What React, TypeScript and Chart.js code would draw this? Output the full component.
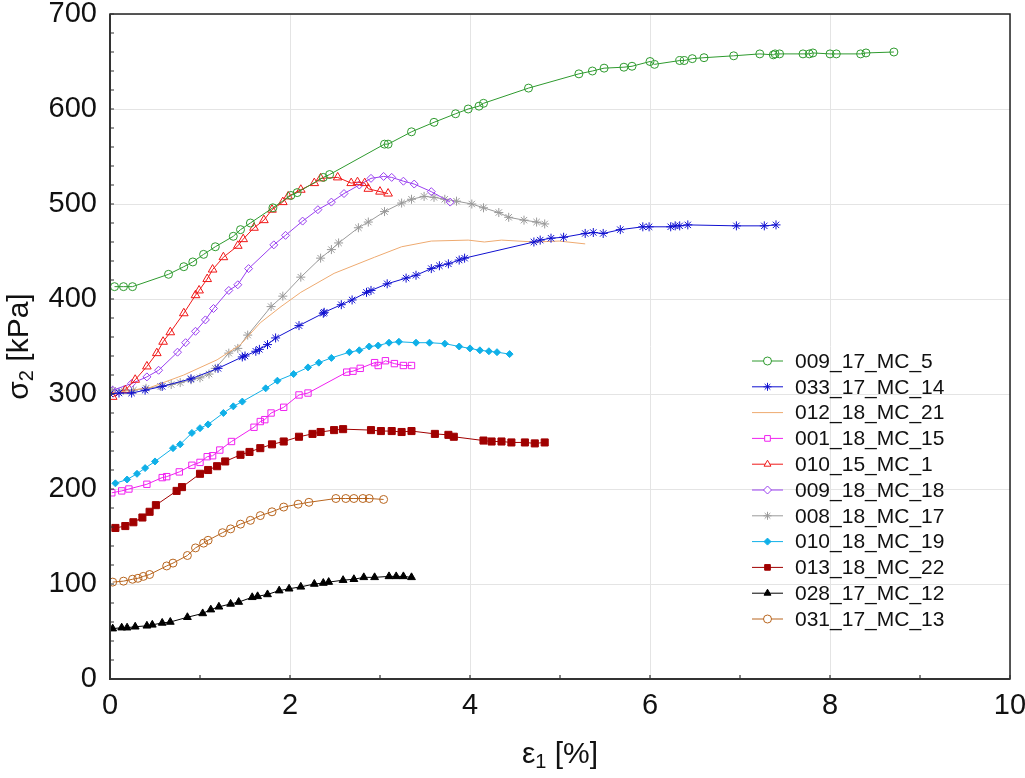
import React, { useEffect, useRef } from "react";
import { Chart, registerables } from "chart.js";
import { drawPoint } from "chart.js/helpers";

Chart.register(...registerables);

// ---------- data ----------
const xTicks = [0, 2, 4, 6, 8, 10];
const yTicks = [0, 100, 200, 300, 400, 500, 600, 700];

const s1Name = "009_17_MC_5";
const s1X = [0.05, 0.15, 0.25, 0.65, 0.82, 0.92, 1.04, 1.17, 1.37, 1.45, 1.56, 1.81, 2.01, 2.08, 2.37, 2.44, 3.05, 3.09, 3.35, 3.6, 3.84, 3.98, 4.1, 4.15, 4.65, 5.21, 5.36, 5.49, 5.71, 5.8, 6.0, 6.05, 6.33, 6.38, 6.47, 6.6, 6.93, 7.22, 7.37, 7.39, 7.44, 7.7, 7.77, 7.81, 8.0, 8.07, 8.34, 8.4, 8.71];
const s1Y = [413, 413, 413, 426, 434, 439, 447, 455, 466, 473, 480, 496, 509, 512, 528, 531, 563, 563, 576, 586, 595, 600, 603, 606, 622, 637, 640, 643, 644, 645, 650, 647, 651, 651, 653, 654, 656, 658, 657, 658, 658, 658, 658, 659, 658, 658, 658, 659, 660];

const s2Name = "033_17_MC_14";
const s2X = [0.0, 0.1, 0.24, 0.39, 0.58, 0.9, 1.2, 1.47, 1.5, 1.62, 1.66, 1.75, 1.84, 2.1, 2.37, 2.38, 2.57, 2.69, 2.85, 2.9, 3.08, 3.29, 3.4, 3.57, 3.66, 3.76, 3.88, 3.94, 4.71, 4.78, 4.9, 5.04, 5.28, 5.37, 5.48, 5.67, 5.92, 5.99, 6.23, 6.28, 6.33, 6.42, 6.96, 7.27, 7.4];
const s2Y = [300, 301, 301, 304, 308, 316, 327, 339, 340, 345, 347, 352, 359, 372, 385, 386, 394, 399, 407, 409, 416, 422, 425, 432, 435, 437, 441, 443, 460, 462, 464, 465, 469, 470, 469, 473, 476, 476, 476, 477, 477, 478, 477, 477, 478];

const s3Name = "012_18_MC_21";
const s3X = [0.0, 0.03, 0.45, 0.82, 1.19, 1.45, 1.67, 1.9, 2.12, 2.49, 2.94, 3.24, 3.57, 3.98, 4.16, 4.35, 4.72, 4.99, 5.28];
const s3Y = [300, 301, 307, 320, 336, 352, 375, 392, 407, 427, 444, 455, 461, 462, 460, 462, 460, 461, 458];

const s4Name = "001_18_MC_15";
const s4X = [0.02, 0.13, 0.21, 0.41, 0.58, 0.63, 0.77, 0.91, 1.0, 1.08, 1.14, 1.22, 1.35, 1.6, 1.67, 1.72, 1.79, 1.93, 2.1, 2.2, 2.63, 2.7, 2.78, 2.94, 2.98, 3.06, 3.16, 3.26, 3.35];
const s4Y = [196, 198, 200, 205, 212, 213, 218, 225, 228, 234, 235, 241, 250, 265, 271, 273, 280, 286, 299, 301, 323, 324, 327, 333, 330, 335, 332, 330, 330];

const s5Name = "010_15_MC_1";
const s5X = [0.03, 0.17, 0.28, 0.41, 0.52, 0.59, 0.67, 0.82, 0.95, 0.99, 1.08, 1.14, 1.26, 1.42, 1.48, 1.6, 1.71, 1.8, 1.92, 1.98, 2.12, 2.27, 2.34, 2.53, 2.68, 2.75, 2.83, 2.87, 3.0, 3.09];
const s5Y = [297, 304, 315, 329, 343, 355, 365, 385, 404, 409, 421, 431, 444, 456, 463, 475, 483, 494, 502, 508, 515, 522, 527, 528, 522, 523, 522, 516, 513, 511];

const s6Name = "009_18_MC_18";
const s6X = [0.03, 0.24, 0.41, 0.54, 0.75, 0.84, 0.95, 1.06, 1.15, 1.32, 1.42, 1.54, 1.82, 1.95, 2.14, 2.31, 2.46, 2.6, 2.77, 2.9, 3.04, 3.13, 3.26, 3.38, 3.57, 3.78];
const s6Y = [304, 311, 318, 325, 344, 354, 366, 378, 390, 409, 415, 432, 457, 467, 482, 494, 502, 511, 520, 527, 529, 528, 524, 521, 513, 502];

const s7Name = "008_18_MC_17";
const s7X = [0.03, 0.15, 0.26, 0.4, 0.56, 0.68, 0.78, 0.9, 1.0, 1.1, 1.17, 1.32, 1.42, 1.53, 1.79, 1.92, 2.12, 2.34, 2.46, 2.54, 2.76, 2.87, 3.05, 3.24, 3.35, 3.49, 3.6, 3.72, 3.85, 4.02, 4.15, 4.32, 4.43, 4.6, 4.74, 4.83];
const s7Y = [304, 304, 304, 306, 308, 310, 312, 315, 317, 321, 327, 343, 348, 362, 392, 403, 423, 443, 452, 459, 475, 481, 492, 501, 505, 508, 507, 505, 503, 500, 496, 491, 486, 483, 481, 479];

const s8Name = "010_18_MC_19";
const s8X = [0.06, 0.19, 0.3, 0.39, 0.5, 0.7, 0.78, 0.91, 1.0, 1.09, 1.26, 1.37, 1.47, 1.73, 1.86, 2.04, 2.2, 2.32, 2.46, 2.66, 2.77, 2.88, 2.98, 3.1, 3.21, 3.4, 3.55, 3.72, 3.88, 4.0, 4.11, 4.21, 4.3, 4.44];
const s8Y = [206, 210, 216, 222, 229, 243, 247, 259, 264, 268, 280, 287, 292, 306, 314, 321, 328, 333, 338, 344, 346, 350, 351, 354, 355, 354, 354, 353, 350, 348, 346, 345, 344, 342];

const s9Name = "013_18_MC_22";
const s9X = [0.06, 0.17, 0.26, 0.36, 0.44, 0.51, 0.74, 0.8, 1.0, 1.09, 1.19, 1.28, 1.45, 1.55, 1.67, 1.8, 1.93, 2.1, 2.25, 2.34, 2.49, 2.59, 2.9, 3.01, 3.13, 3.24, 3.35, 3.61, 3.76, 3.82, 4.15, 4.24, 4.35, 4.46, 4.61, 4.72, 4.83];
const s9Y = [159, 161, 165, 170, 176, 183, 198, 202, 216, 220, 224, 229, 236, 239, 243, 247, 250, 255, 258, 260, 262, 263, 262, 261, 261, 260, 261, 258, 257, 255, 251, 250, 250, 249, 249, 248, 249];

const s10Name = "028_17_MC_12";
const s10X = [0.03, 0.13, 0.19, 0.28, 0.41, 0.47, 0.58, 0.67, 0.86, 1.03, 1.12, 1.21, 1.34, 1.43, 1.58, 1.64, 1.75, 1.88, 1.99, 2.12, 2.27, 2.37, 2.43, 2.59, 2.71, 2.82, 2.94, 3.1, 3.18, 3.26, 3.35];
const s10Y = [53, 54, 54, 55, 56, 57, 59, 60, 65, 69, 73, 76, 79, 81, 86, 87, 89, 93, 95, 97, 100, 101, 102, 104, 105, 107, 107, 108, 108, 108, 107];

const s11Name = "031_17_MC_13";
const s11X = [0.03, 0.15, 0.25, 0.31, 0.37, 0.44, 0.63, 0.7, 0.86, 0.95, 1.04, 1.09, 1.25, 1.34, 1.45, 1.56, 1.67, 1.8, 1.93, 2.09, 2.21, 2.51, 2.62, 2.71, 2.81, 2.88, 3.04];
const s11Y = [102, 103, 105, 106, 108, 110, 119, 122, 130, 138, 143, 146, 154, 158, 163, 167, 172, 176, 181, 184, 186, 190, 190, 190, 190, 190, 189];

const zip = (xs: number[], ys: number[]) => xs.map((x, i) => ({ x, y: ys[i] }));

type Sty = { color: string; style: any; filled: boolean; r: number };
const seriesDefs: { name: string; xs: number[]; ys: number[]; s: Sty }[] = [
  { name: s1Name, xs: s1X, ys: s1Y, s: { color: "#2e9a2e", style: "circle", filled: false, r: 4 } },
  { name: s2Name, xs: s2X, ys: s2Y, s: { color: "#1010d0", style: "star", filled: true, r: 4.5 } },
  { name: s3Name, xs: s3X, ys: s3Y, s: { color: "#eeaa70", style: false, filled: false, r: 0 } },
  { name: s4Name, xs: s4X, ys: s4Y, s: { color: "#f020f0", style: "rect", filled: false, r: 4.5 } },
  { name: s5Name, xs: s5X, ys: s5Y, s: { color: "#f01818", style: "triangle", filled: false, r: 5 } },
  { name: s6Name, xs: s6X, ys: s6Y, s: { color: "#9a40f0", style: "rectRot", filled: false, r: 4 } },
  { name: s7Name, xs: s7X, ys: s7Y, s: { color: "#9a9a9a", style: "star", filled: true, r: 4.5 } },
  { name: s8Name, xs: s8X, ys: s8Y, s: { color: "#10b0e8", style: "rectRot", filled: true, r: 3.5 } },
  { name: s9Name, xs: s9X, ys: s9Y, s: { color: "#a00000", style: "rect", filled: true, r: 5 } },
  { name: s10Name, xs: s10X, ys: s10Y, s: { color: "#000000", style: "triangle", filled: true, r: 4.5 } },
  { name: s11Name, xs: s11X, ys: s11Y, s: { color: "#b8651e", style: "circle", filled: false, r: 4 } },
];

const FONT = "'Liberation Sans', Arial, sans-serif";

const decorPlugin = {
  id: "decor",
  afterDraw(chart: any) {
    const { ctx, chartArea } = chart;
    const { left, top, right, bottom } = chartArea;
    const xs = chart.scales.x;
    const ys = chart.scales.y;
    ctx.save();
    // frame
    ctx.strokeStyle = "#222";
    ctx.lineWidth = 1.5;
    ctx.strokeRect(left, top, right - left, bottom - top);
    ctx.lineWidth = 2;
    ctx.strokeStyle = "#333";
    ctx.beginPath();
    ctx.moveTo(left, top);
    ctx.lineTo(left, bottom);
    ctx.lineTo(right, bottom);
    ctx.stroke();
    // minor/major ticks inward
    ctx.lineWidth = 1.2;
    ctx.strokeStyle = "#333";
    ctx.beginPath();
    for (let v = 0; v <= 700; v += 20) {
      const py = ys.getPixelForValue(v);
      ctx.moveTo(left, py);
      ctx.lineTo(left + 4, py);
    }
    for (let v = 0; v <= 10; v += 1) {
      const px = xs.getPixelForValue(v);
      ctx.moveTo(px, bottom);
      ctx.lineTo(px, bottom - 4);
    }
    ctx.stroke();

    // y title
    ctx.fillStyle = "#111";
    ctx.textBaseline = "middle";
    const ycx = 20;
    const ycy = (top + bottom) / 2;
    ctx.save();
    ctx.translate(ycx, ycy);
    ctx.rotate(-Math.PI / 2);
    const big = `30px ${FONT}`;
    const small = `20px ${FONT}`;
    const parts1 = [
      { t: "σ", f: big, dy: 0 },
      { t: "2", f: small, dy: 7 },
      { t: " [kPa]", f: big, dy: 0 },
    ];
    let w = 0;
    parts1.forEach((p) => {
      ctx.font = p.f;
      w += ctx.measureText(p.t).width;
    });
    let cx = -w / 2;
    ctx.textAlign = "left";
    parts1.forEach((p) => {
      ctx.font = p.f;
      ctx.fillText(p.t, cx, p.dy);
      cx += ctx.measureText(p.t).width;
    });
    ctx.restore();

    // x title
    const parts2 = [
      { t: "ε", f: big, dy: 0 },
      { t: "1", f: small, dy: 7 },
      { t: " [%]", f: big, dy: 0 },
    ];
    w = 0;
    parts2.forEach((p) => {
      ctx.font = p.f;
      w += ctx.measureText(p.t).width;
    });
    cx = (left + right) / 2 - w / 2;
    const xty = 755;
    ctx.textAlign = "left";
    parts2.forEach((p) => {
      ctx.font = p.f;
      ctx.fillText(p.t, cx, xty + p.dy);
      cx += ctx.measureText(p.t).width;
    });

    // legend
    const lx0 = 752;
    const lx1 = 783;
    const tx = 795;
    const ly0 = 361;
    const step = 25.8;
    ctx.font = `21px ${FONT}`;
    seriesDefs.forEach((d, i) => {
      const y = ly0 + i * step;
      ctx.strokeStyle = d.s.color;
      ctx.lineWidth = 1;
      ctx.beginPath();
      ctx.moveTo(lx0, y);
      ctx.lineTo(lx1, y);
      ctx.stroke();
      if (d.s.style) {
        ctx.fillStyle = d.s.filled ? d.s.color : "#ffffff";
        ctx.strokeStyle = d.s.color;
        ctx.lineWidth = 1;
        drawPoint(ctx, { pointStyle: d.s.style, rotation: 0, radius: Math.min(d.s.r, 4), borderWidth: 1 }, (lx0 + lx1) / 2, y);
      }
      ctx.fillStyle = "#111";
      ctx.textAlign = "left";
      ctx.textBaseline = "middle";
      ctx.fillText(d.name, tx, y + 1);
    });
    ctx.restore();
  },
};

export default function App() {
  const ref = useRef<HTMLCanvasElement>(null);
  useEffect(() => {
    if (!ref.current) return;
    const datasets = seriesDefs.map((d) => ({
      label: d.name,
      data: zip(d.xs, d.ys),
      showLine: true,
      borderColor: d.s.color,
      backgroundColor: d.s.filled ? d.s.color : "rgba(255,255,255,0)",
      pointBorderColor: d.s.color,
      pointBackgroundColor: d.s.filled ? d.s.color : "rgba(255,255,255,0)",
      borderWidth: 1,
      pointBorderWidth: 1,
      pointStyle: d.s.style,
      pointRadius: d.s.r,
      pointHoverRadius: d.s.r,
      tension: 0,
    }));
    const chart = new Chart(ref.current, {
      type: "scatter",
      data: { datasets },
      options: {
        animation: false,
        responsive: true,
        maintainAspectRatio: false,
        layout: { padding: { top: 14, right: 15, left: 0, bottom: 0 } },
        plugins: { legend: { display: false }, tooltip: { enabled: false }, title: { display: false } },
        scales: {
          x: {
            type: "linear",
            min: 0,
            max: 10,
            afterBuildTicks: (scale: any) => {
              scale.ticks = xTicks.map((v) => ({ value: v }));
            },
            afterFit: (scale: any) => {
              scale.height = 99;
              scale.paddingLeft = 0;
              scale.paddingRight = 0;
            },
            ticks: {
              font: { family: FONT, size: 29 },
              color: "#111",
              padding: 10,
              maxRotation: 0,
            },
            grid: { color: "#e4e4e4", lineWidth: 1, drawTicks: false },
            border: { display: false },
          },
          y: {
            type: "linear",
            min: 0,
            max: 700,
            afterBuildTicks: (scale: any) => {
              scale.ticks = yTicks.map((v) => ({ value: v }));
            },
            afterFit: (scale: any) => {
              scale.width = 110;
              scale.paddingTop = 0;
              scale.paddingBottom = 0;
            },
            ticks: {
              font: { family: FONT, size: 29 },
              color: "#111",
              padding: 13,
            },
            grid: { color: "#e4e4e4", lineWidth: 1, drawTicks: false },
            border: { display: false },
          },
        },
      },
      plugins: [decorPlugin],
    });
    return () => chart.destroy();
  }, []);
  return (
    <div style={{ position: "absolute", left: 0, top: 0, width: 1025, height: 778, background: "#fff" }}>
      <canvas ref={ref} />
    </div>
  );
}
